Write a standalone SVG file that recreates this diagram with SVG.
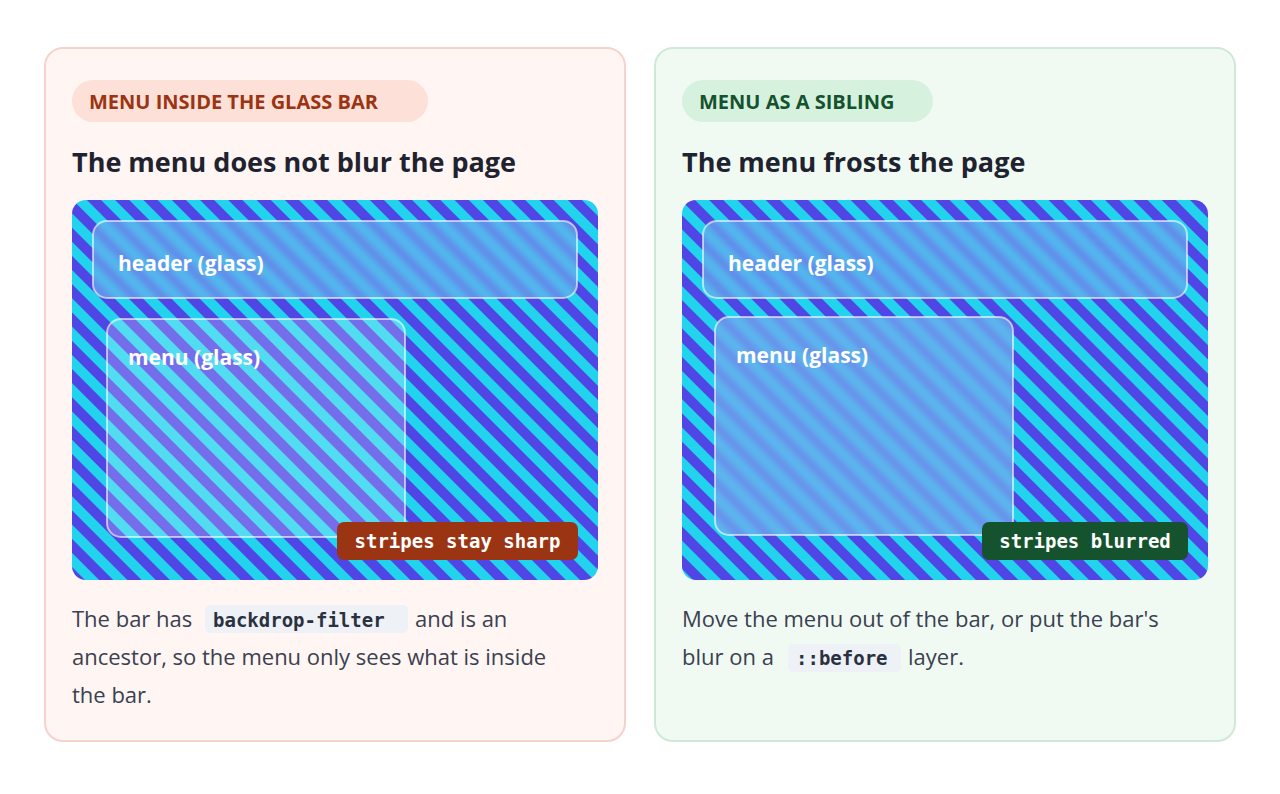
<svg xmlns="http://www.w3.org/2000/svg" width="1280" height="794" viewBox="0 0 1280 794">
<style>
.pill{font:bold 20px "Open Sans","Noto Sans",sans-serif}
.h{font:bold 27px "Open Sans","Noto Sans",sans-serif;fill:#1f2330}
.gl{font:bold 21px "Open Sans","Noto Sans",sans-serif;fill:#fff}
.badge{font:bold 19px "DejaVu Sans Mono",monospace;fill:#fff}
.p{font:22px "Open Sans","Noto Sans",sans-serif;fill:#3a4150}
.code{font:bold 19px "DejaVu Sans Mono",monospace;fill:#2a3140}
.glass{stroke:#ffffff;stroke-opacity:.6;stroke-width:2}
</style>
<defs>
<pattern id="st" width="20" height="20" patternUnits="userSpaceOnUse" patternTransform="rotate(-45)">
<rect width="20" height="20" fill="#22d3ee"/><rect width="10" height="20" fill="#4f46e5"/>
</pattern>
<filter id="bl" x="-10%" y="-10%" width="120%" height="120%"><feGaussianBlur stdDeviation="5"/></filter>
<clipPath id="ch1"><rect x="93" y="221" width="484" height="77" rx="14"/></clipPath>
<clipPath id="ch2"><rect x="703" y="221" width="484" height="77" rx="14"/></clipPath>
<clipPath id="cm2"><rect x="715" y="317" width="298" height="218" rx="14"/></clipPath>
</defs>
<rect width="1280" height="794" fill="#fff"/>
<g id="left">
<rect x="45" y="48" width="580" height="693" rx="18" fill="#fff5f3" stroke="#f3d3cc" stroke-width="2"/>
<rect x="72" y="80" width="356" height="42" rx="21" fill="#fde0d7"/>
<text x="89" y="109" class="pill" fill="#9a3412">MENU INSIDE THE GLASS BAR</text>
<text x="72" y="172" class="h">The menu does not blur the page</text>
<rect x="72" y="200" width="526" height="380" rx="14" fill="url(#st)"/>
<g clip-path="url(#ch1)"><rect x="60" y="190" width="560" height="130" fill="url(#st)" filter="url(#bl)"/><rect x="93" y="221" width="484" height="77" fill="#8fb0f0" fill-opacity=".35"/></g>
<rect x="93" y="221" width="484" height="77" rx="14" fill="none" class="glass"/>
<text x="118" y="271" class="gl">header (glass)</text>
<rect x="107" y="319" width="298" height="218" rx="14" fill="#ffffff" fill-opacity=".22" class="glass"/>
<text x="128" y="365" class="gl">menu (glass)</text>
<rect x="337" y="522" width="241" height="38" rx="7" fill="#9a3412"/>
<text x="457.5" y="548" class="badge" text-anchor="middle">stripes stay sharp</text>
<rect x="205" y="605" width="203" height="28" rx="5" fill="#eef1f5"/>
<text x="72" y="627" class="p">The bar has <tspan class="code" x="213">backdrop-filter</tspan><tspan x="415">and is an</tspan></text>
<text x="72" y="665" class="p">ancestor, so the menu only sees what is inside</text>
<text x="72" y="703" class="p">the bar.</text>
</g>
<g id="right">
<rect x="655" y="48" width="580" height="693" rx="18" fill="#f0faf3" stroke="#cfe9d8" stroke-width="2"/>
<rect x="682" y="80" width="251" height="42" rx="21" fill="#d7f1df"/>
<text x="699" y="109" class="pill" fill="#14532d">MENU AS A SIBLING</text>
<text x="682" y="172" class="h">The menu frosts the page</text>
<rect x="682" y="200" width="526" height="380" rx="14" fill="url(#st)"/>
<g clip-path="url(#ch2)"><rect x="670" y="190" width="560" height="130" fill="url(#st)" filter="url(#bl)"/><rect x="703" y="221" width="484" height="77" fill="#8fb0f0" fill-opacity=".35"/></g>
<rect x="703" y="221" width="484" height="77" rx="14" fill="none" class="glass"/>
<text x="728" y="271" class="gl">header (glass)</text>
<g clip-path="url(#cm2)"><rect x="700" y="300" width="330" height="250" fill="url(#st)" filter="url(#bl)"/><rect x="715" y="317" width="298" height="218" fill="#8fb0f0" fill-opacity=".45"/></g>
<rect x="715" y="317" width="298" height="218" rx="14" fill="none" class="glass"/>
<text x="736" y="363" class="gl">menu (glass)</text>
<rect x="982" y="522" width="206" height="38" rx="7" fill="#14532d"/>
<text x="1085" y="548" class="badge" text-anchor="middle">stripes blurred</text>
<text x="682" y="627" class="p">Move the menu out of the bar, or put the bar's</text>
<rect x="788" y="644" width="113" height="28" rx="5" fill="#eef1f5"/>
<text x="682" y="665" class="p">blur on a <tspan class="code" x="796">::before</tspan><tspan x="908">layer.</tspan></text>
</g>
</svg>
